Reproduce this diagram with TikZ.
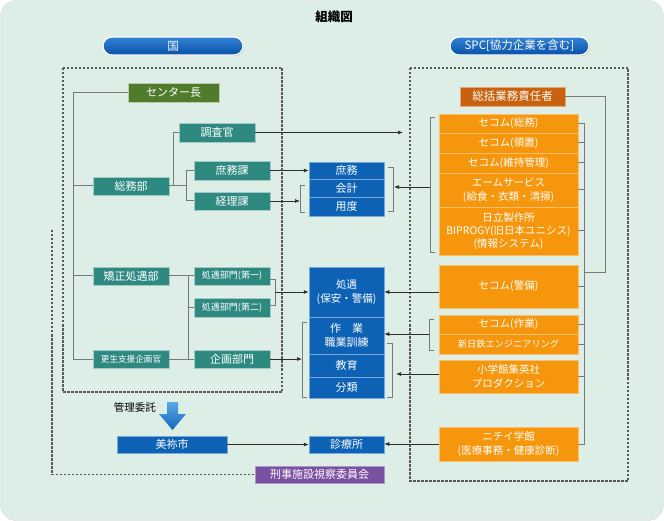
\documentclass[tikz,border=0pt]{standalone}
\usepackage{fontspec}
\setmainfont{Noto Sans CJK JP}
\usetikzlibrary{arrows.meta,shadows}
\definecolor{bg}{RGB}{221,238,230}
\definecolor{tealb}{RGB}{46,138,128}
\definecolor{greenb}{RGB}{80,122,44}
\definecolor{blueb}{RGB}{14,98,182}
\definecolor{orangeb}{RGB}{246,150,12}
\definecolor{dorange}{RGB}{200,98,14}
\definecolor{purpleb}{RGB}{122,80,160}
\definecolor{lnc}{RGB}{120,120,120}
\definecolor{arc}{RGB}{45,45,45}
\begin{document}
\begin{tikzpicture}[x=1pt,y=-1pt,
  fs/.style={font=\fontsize{#1}{13.5}\selectfont},
  bx/.style={text=white, inner sep=0pt, align=center, fs=11, minimum width=76pt, minimum height=18pt},
  tbox/.style={bx, fill=tealb, draw=white!55!tealb, line width=0.6pt},
  gbox/.style={bx, fill=greenb, draw=white!60!greenb, line width=0.8pt},
  bbox/.style={bx, fill=blueb, draw=white!45!blueb, line width=0.5pt, minimum width=75pt},
  obox/.style={bx, fill=orangeb, draw=white!40!orangeb, line width=0.5pt, minimum width=139pt, fs=10.5},
  pill/.style={text=white, inner sep=0pt, fs=11.5, minimum height=18pt, rounded corners=9pt,
    top color={rgb,255:red,50;green,130;blue,210}, bottom color={rgb,255:red,8;green,82;blue,170},
    draw=white, line width=1.2pt, drop shadow={opacity=0.35, shadow xshift=1pt, shadow yshift=-1pt}},
  ln/.style={draw=lnc, line width=1pt},
  brk/.style={draw=lnc, line width=0.9pt},
  arr/.style={draw=arc, line width=0.7pt, -{Latex[length=5pt,width=4pt]}},
  dsh/.style={draw=black!65, line width=1.3pt, dash pattern=on 2.5pt off 1.5pt}
]
% background
\useasboundingbox (0,0) rectangle (664,521);
\fill[white] (0,0) rectangle (664,521);
\draw[fill=bg, draw=black!15, rounded corners=16pt] (0.5,0.5) rectangle (663.5,520.5);

% title
\node[font=\fontsize{12.5}{14}\selectfont\bfseries] (title) at (334,17) {組織図};

% pills
\node[pill, minimum width=140pt] (kuni) at (173,46) {国};
\node[pill, minimum width=139pt] (spc) at (519.5,46) {SPC[協力企業を含む]};

% dashed frames
\draw[dsh] (63,68) rectangle (282,392);
\draw[dsh] (410,68) rectangle (628,481);

% left (national) nodes
\node[gbox, minimum width=91pt, minimum height=19pt] (cl) at (173.5,92.5) {センター長};
\node[tbox] (soumu) at (131,186) {総務部};
\node[tbox, minimum height=19pt] (chousa) at (217,132.5) {調査官};
\node[tbox, minimum height=19pt] (shomuka) at (232,170.5) {庶務課};
\node[tbox] (keiri) at (232,201) {経理課};
\node[tbox] (kyousei) at (131,276) {矯正処遇部};
\node[tbox, fs=9] (sh1) at (232,276) {処遇部門(第一)};
\node[tbox, fs=9, minimum height=19pt] (sh2) at (232,307.5) {処遇部門(第二)};
\node[tbox, fs=8.6] (kousei) at (131,359) {更生支援企画官};
\node[tbox] (kikaku) at (232,359) {企画部門};

% blue stacks
\node[bbox, minimum height=17pt] (shomu) at (346.5,170.5) {庶務};
\node[bbox, minimum height=18pt] (kaikei) at (346.5,188) {会計};
\node[bbox, minimum height=19pt] (youdo) at (346.5,206.5) {用度};
\node[bbox, minimum height=50pt, fs=10.5] (shogu) at (346.5,292) {処遇\\(保安・警備)};
\node[bbox, minimum height=37pt] (sagyou) at (346.5,335.5) {作　業\\職業訓練};
\node[bbox, minimum height=23pt] (kyouiku) at (346.5,365.5) {教育};
\node[bbox, minimum height=21pt] (bunrui) at (346.5,387.5) {分類};
\node[bbox, minimum width=110pt, minimum height=17pt] (mine) at (172,444.5) {美祢市};
\node[bbox, minimum height=17pt] (shinryo) at (346.5,444.5) {診療所};
\node[bx, fill=purpleb, draw=white!40!purpleb, line width=0.5pt, minimum width=129pt, minimum height=17pt, fs=11] (iin) at (319.5,474.5) {刑事施設視察委員会};

% SPC nodes
\node[bx, fill=dorange, draw=white!45!dorange, line width=0.6pt, minimum width=105pt, minimum height=19pt, fs=11.5] (sekinin) at (512.5,96.5) {総括業務責任者};
\node[obox, minimum height=19pt] (o1) at (508.5,123.5) {セコム(総務)};
\node[obox, minimum height=20pt] (o2) at (508.5,143) {セコム(領置)};
\node[obox, minimum height=20pt] (o3) at (508.5,163) {セコム(維持管理)};
\node[obox, minimum height=34pt] (o4) at (508.5,190) {エームサービス\\(給食・衣類・清掃)};
\node[obox, minimum height=48pt, font=\fontsize{10.5}{13}\selectfont] (o5) at (508.5,231) {日立製作所\\BIPROGY(旧日本ユニシス)\\(情報システム)};
\node[obox, minimum height=43pt] (o6) at (508.5,286.5) {セコム(警備)};
\node[obox, minimum height=19pt] (o7) at (508.5,324.5) {セコム(作業)};
\node[obox, minimum height=20pt, fs=9.2] (o8) at (508.5,344) {新日鉄エンジニアリング};
\node[obox, minimum height=33pt] (o9) at (508.5,376.5) {小学館集英社\\プロダクション};
\node[obox, minimum height=34pt] (o10) at (508.5,444) {ニチイ学館\\(医療事務・健康診断)};

% management arrow + label
\shade[top color={rgb,255:red,90;green,170;blue,230}, bottom color={rgb,255:red,20;green,100;blue,190}]
  (167,402) -- (178,402) -- (178,414) -- (186,414) -- (172.5,430) -- (159,414) -- (167,414) -- cycle;
\node[fs=10.5, anchor=east, inner sep=0pt] (kanri) at (156,407) {管理委託};

% coordinates
\coordinate (lvx) at (73,0);
\coordinate (x173) at (173,0);
\coordinate (x186) at (186,0);
\coordinate (x188) at (188,0);
\coordinate (rvx) at (584,0);
\coordinate (chEnd) at (403,132.5);
\coordinate (bk1) at (300,201);
\coordinate (bk2) at (394,187);
\coordinate (ob1) at (430,187);
\coordinate (bk3) at (275,292);
\coordinate (bk4) at (302,359);
\coordinate (ob2) at (429,334);
\coordinate (bk5) at (396,374);
\coordinate (dtop) at (52,230);
\coordinate (dl) at (52,474.5);

% tree lines (left)
\draw[ln] (cl.west) -| (lvx |- kousei.west) -- (kousei.west);
\draw[ln] (soumu.west) -- (soumu.west -| lvx);
\draw[ln] (kyousei.west) -- (kyousei.west -| lvx);
\draw[ln] (soumu.east) -- (soumu.east -| x186);
\draw[ln] (soumu.east -| x173) |- (chousa.west);
\draw[ln] (shomuka.west) -| (x186 |- keiri.west) -- (keiri.west);
\draw[ln] (kyousei.east) -- (sh1.west);
\draw[ln] (kyousei.east -| x188) |- (kikaku.west);
\draw[ln] (sh2.west) -- (sh2.west -| x188);
\draw[ln] (kousei.east) -- (kikaku.west);

% brackets
\draw[brk] (305,185) -- (300,185) -- (300,212) -- (305,212);
\draw[brk] (388,167) -- (393,167) -- (393,211) -- (388,211);
\draw[brk] (435,117) -- (430,117) -- (430,252) -- (435,252);
\draw[brk] (270,279) -- (275,279) -- (275,305) -- (270,305);
\draw[brk] (307,322) -- (302,322) -- (302,397) -- (307,397);
\draw[brk] (434,319) -- (429,319) -- (429,350) -- (434,350);
\draw[brk] (387,343) -- (392,343) -- (392,397) -- (387,397);

% arrows
\draw[arr] (chousa.east) -- (chEnd);
\draw[arr] (shomuka.east) -- (shomuka.east -| shomu.west);
\draw[arr] (keiri.east) -- (bk1);
\draw[arr] (ob1) -- (bk2);
\draw[arr] (bk3) -- (bk3 -| shogu.west);
\draw[arr] (kikaku.east) -- (bk4);
\draw[arr] (o6.west |- shogu.east) -- (shogu.east);
\draw[arr] (ob2) -- (ob2 -| sagyou.east);
\draw[arr] (o9.west |- bk5) -- (bk5);
\draw[arr] (o10.west) -- (o10.west -| shinryo.east);
\draw[arr] (mine.east) -- (shinryo.west);

% right tree
\draw[ln] (sekinin.east) -- (605,96.5) -- (605,273) -- (584,273);
\draw[ln] (rvx |- o1.east) -- (rvx |- o10.east) -- (o10.east);
\foreach \n in {o1,o2,o3,o4,o5,o6,o7,o8,o9}
  \draw[ln] (\n.east) -- (\n.east -| rvx);

% committee dashed line
\draw[dsh] (dtop) -- (dl) -- (iin.west);
\end{tikzpicture}
\end{document}
